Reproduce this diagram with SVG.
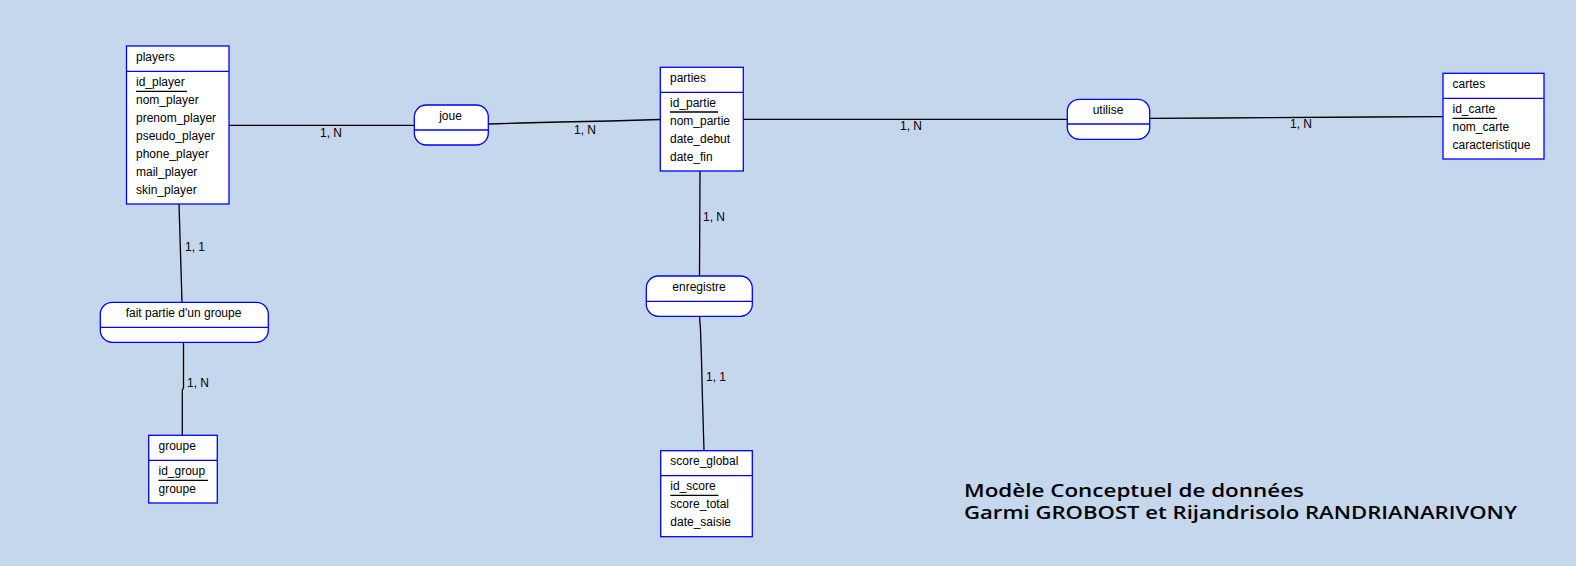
<svg xmlns="http://www.w3.org/2000/svg" width="1576" height="566" viewBox="0 0 1576 566">
<style>
.bg{fill:#C4D7EC}
.box{fill:#FFFFFF;stroke:#0000FF;stroke-width:1.3}
.sep{stroke:#0000FF;stroke-width:1.3}
.ul{stroke:#000000;stroke-width:1.3}
.con{fill:none;stroke:#000000;stroke-width:1.3}
text{font-family:"Liberation Sans",Arial,sans-serif;font-size:12px;fill:#000000}
.mid{text-anchor:middle}
.title{font-family:"Open Sans","Noto Sans",sans-serif;font-size:18px;font-weight:600}
</style>
<rect class="bg" x="0" y="0" width="1576" height="566"/>
<g id="connectors">
<line class="con" x1="229" y1="125.3" x2="414" y2="125.3"/>
<text x="320" y="137">1, N</text>
<polyline class="con" points="488,124 520,123 560,122 610,121 660,119.5"/>
<text x="574" y="134">1, N</text>
<line class="con" x1="743" y1="119.3" x2="1067" y2="119.3"/>
<text x="900" y="130">1, N</text>
<polyline class="con" points="1150,118.3 1220,118 1370,117 1443,116.7"/>
<text x="1290" y="128">1, N</text>
<line class="con" x1="179" y1="204" x2="182" y2="302.3"/>
<text x="185" y="251">1, 1</text>
<polyline class="con" points="183.5,342.3 183.5,388 182.3,390 182.3,435.3"/>
<text x="187" y="387">1, N</text>
<line class="con" x1="700" y1="171" x2="699.5" y2="276"/>
<text x="703" y="221">1, N</text>
<polyline class="con" points="699.5,316.3 700.5,330 701.5,360 702.5,400 704,450.7"/>
<text x="706" y="381">1, 1</text>
</g>
<g id="players">
<rect class="box" x="126.5" y="46" width="102.5" height="158"/>
<line class="sep" x1="126.5" y1="71.3" x2="229" y2="71.3"/>
<text x="136" y="61">players</text>
<text x="136" y="85.7">id_player</text>
<line class="ul" x1="136" y1="91.3" x2="187" y2="91.3"/>
<text x="136" y="103.7">nom_player</text>
<text x="136" y="121.7">prenom_player</text>
<text x="136" y="139.7">pseudo_player</text>
<text x="136" y="157.7">phone_player</text>
<text x="136" y="175.7">mail_player</text>
<text x="136" y="193.7">skin_player</text>
</g>
<g id="joue">
<rect class="box" x="414.3" y="105" width="74" height="40" rx="12" ry="12"/>
<line class="sep" x1="414.3" y1="130" x2="488.3" y2="130"/>
<text class="mid" x="450.5" y="120">joue</text>
</g>
<g id="parties">
<rect class="box" x="660.3" y="67.3" width="83" height="103.7"/>
<line class="sep" x1="660.3" y1="92.3" x2="743.3" y2="92.3"/>
<text x="670" y="81.7">parties</text>
<text x="670" y="106.7">id_partie</text>
<line class="ul" x1="670" y1="112" x2="718" y2="112"/>
<text x="670" y="124.7">nom_partie</text>
<text x="670" y="142.7">date_debut</text>
<text x="670" y="160.7">date_fin</text>
</g>
<g id="utilise">
<rect class="box" x="1067.3" y="99.3" width="82.4" height="40" rx="12" ry="12"/>
<line class="sep" x1="1067.3" y1="124" x2="1149.7" y2="124"/>
<text class="mid" x="1108" y="113.5">utilise</text>
</g>
<g id="cartes">
<rect class="box" x="1443" y="73.3" width="101" height="85.7"/>
<line class="sep" x1="1443" y1="98.3" x2="1544" y2="98.3"/>
<text x="1452.5" y="87.7">cartes</text>
<text x="1452.5" y="112.7">id_carte</text>
<line class="ul" x1="1452.5" y1="118.3" x2="1497" y2="118.3"/>
<text x="1452.5" y="130.7">nom_carte</text>
<text x="1452.5" y="148.7">caracteristique</text>
</g>
<g id="fait_partie">
<rect class="box" x="100.3" y="302.3" width="168" height="40" rx="12" ry="12"/>
<line class="sep" x1="100.3" y1="327.3" x2="268.3" y2="327.3"/>
<text class="mid" x="183.5" y="316.7">fait partie d'un groupe</text>
</g>
<g id="groupe">
<rect class="box" x="148.7" y="435.3" width="68.6" height="67.7"/>
<line class="sep" x1="148.7" y1="460.3" x2="217.3" y2="460.3"/>
<text x="158.5" y="450">groupe</text>
<text x="158.5" y="475.3">id_group</text>
<line class="ul" x1="158.5" y1="480.3" x2="208" y2="480.3"/>
<text x="158.5" y="493.3">groupe</text>
</g>
<g id="enregistre">
<rect class="box" x="646.3" y="276" width="106" height="40.3" rx="12" ry="12"/>
<line class="sep" x1="646.3" y1="301.3" x2="752.3" y2="301.3"/>
<text class="mid" x="699" y="290.7">enregistre</text>
</g>
<g id="score_global">
<rect class="box" x="660.7" y="450.7" width="91.6" height="86"/>
<line class="sep" x1="660.7" y1="475.7" x2="752.3" y2="475.7"/>
<text x="670.3" y="465">score_global</text>
<text x="670.3" y="490">id_score</text>
<line class="ul" x1="670.3" y1="495.3" x2="718.5" y2="495.3"/>
<text x="670.3" y="508">score_total</text>
<text x="670.3" y="526">date_saisie</text>
</g>
<g id="title">
<text class="title" x="964" y="497" textLength="340" lengthAdjust="spacingAndGlyphs">Modèle Conceptuel de données</text>
<text class="title" x="964" y="519" textLength="553" lengthAdjust="spacingAndGlyphs">Garmi GROBOST et Rijandrisolo RANDRIANARIVONY</text>
</g>
</svg>
